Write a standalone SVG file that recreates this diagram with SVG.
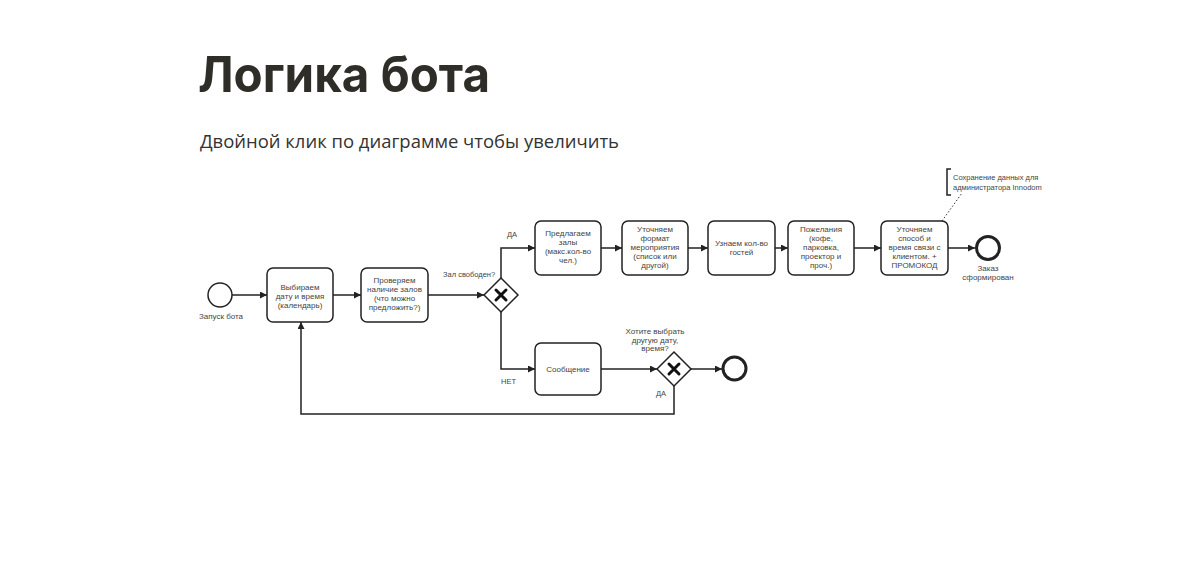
<svg xmlns="http://www.w3.org/2000/svg" width="1203" height="571" viewBox="0 0 1203 571">
<defs>
<marker id="arr" viewBox="0 0 10 10" refX="10" refY="5" markerWidth="7" markerHeight="7" markerUnits="userSpaceOnUse" orient="auto">
<path d="M0,0 L10,5 L0,10 Z" fill="#222"/>
</marker>
<style>
.box{fill:#fff;stroke:#222;stroke-width:1.5}
.t{font-family:"Liberation Sans",Arial,sans-serif;font-size:8px;fill:#444;text-anchor:middle}
.l{font-family:"Liberation Sans",Arial,sans-serif;font-size:7.5px;fill:#444}
.e{fill:none;stroke:#222;stroke-width:1.5;marker-end:url(#arr)}
.gw{fill:#fff;stroke:#222;stroke-width:1.5}
.x{stroke:#111;stroke-width:3;stroke-linecap:round}
</style>
</defs>
<rect width="1203" height="571" fill="#fff"/>
<text x="198" y="92" font-family="Inter, 'Noto Sans', sans-serif" font-weight="700" font-size="50" fill="#2f2d28" textLength="292" lengthAdjust="spacingAndGlyphs">Логика бота</text>
<text x="200" y="148" font-family="'Open Sans', 'Noto Sans', sans-serif" font-size="18.5" fill="#333" textLength="419" lengthAdjust="spacingAndGlyphs">Двойной клик по диаграмме чтобы увеличить</text>

<g id="connectors">
<path class="e" d="M232,295 H267"/>
<path class="e" d="M333,295 H361"/>
<path class="e" d="M428,295 H484"/>
<path class="e" d="M501,278 V248 H535"/>
<path class="e" d="M501,312 V369 H535"/>
<path class="e" d="M601,248 H622"/>
<path class="e" d="M688,248 H708"/>
<path class="e" d="M775,248 H788"/>
<path class="e" d="M854,248 H881"/>
<path class="e" d="M948,248 H975"/>
<path class="e" d="M601,369 H657"/>
<path class="e" d="M691,369 H722"/>
<path class="e" d="M674,386 V414 H301 V322"/>
<path d="M942,221 L962,193" fill="none" stroke="#333" stroke-width="1" stroke-dasharray="1.5,2"/>
<text class="l" x="443" y="277">Зал свободен?</text>
<text class="l" x="507" y="237">ДА</text>
<text class="l" x="501" y="384">НЕТ</text>
<text class="l" x="656" y="396">ДА</text>
</g>

<g id="start">
<circle cx="220" cy="295" r="12" fill="#fff" stroke="#222" stroke-width="1.5"/>
<text class="t" x="221" y="319">Запуск бота</text>
</g>

<g id="task1">
<rect class="box" x="267" y="268" width="66" height="54" rx="6"/>
<text class="t" x="300" y="290">Выбираем</text>
<text class="t" x="300" y="299">дату и время</text>
<text class="t" x="300" y="308">(календарь)</text>
</g>

<g id="task2">
<rect class="box" x="361" y="268" width="67" height="54" rx="6"/>
<text class="t" x="394.5" y="283">Проверяем</text>
<text class="t" x="394.5" y="292">наличие залов</text>
<text class="t" x="394.5" y="301">(что можно</text>
<text class="t" x="394.5" y="310">предложить?)</text>
</g>

<g id="gateway1">
<path class="gw" d="M501,278 L518,295 L501,312 L484,295 Z"/>
<path class="x" d="M496,290 L506,300 M506,290 L496,300"/>
</g>

<g id="task3">
<rect class="box" x="535" y="221" width="66" height="54" rx="6"/>
<text class="t" x="568" y="236">Предлагаем</text>
<text class="t" x="568" y="245">залы</text>
<text class="t" x="568" y="254">(макс.кол-во</text>
<text class="t" x="568" y="263">чел.)</text>
</g>

<g id="task4">
<rect class="box" x="622" y="221" width="66" height="54" rx="6"/>
<text class="t" x="655" y="232">Уточняем</text>
<text class="t" x="655" y="241">формат</text>
<text class="t" x="655" y="250">мероприятия</text>
<text class="t" x="655" y="259">(список или</text>
<text class="t" x="655" y="268">другой)</text>
</g>

<g id="task5">
<rect class="box" x="708" y="221" width="67" height="54" rx="6"/>
<text class="t" x="741.5" y="246">Узнаем кол-во</text>
<text class="t" x="741.5" y="255">гостей</text>
</g>

<g id="task6">
<rect class="box" x="788" y="221" width="66" height="54" rx="6"/>
<text class="t" x="821" y="232">Пожелания</text>
<text class="t" x="821" y="241">(кофе,</text>
<text class="t" x="821" y="250">парковка,</text>
<text class="t" x="821" y="259">проектор и</text>
<text class="t" x="821" y="268">проч.)</text>
</g>

<g id="task7">
<rect class="box" x="881" y="221" width="67" height="54" rx="6"/>
<text class="t" x="914.5" y="232">Уточняем</text>
<text class="t" x="914.5" y="241">способ и</text>
<text class="t" x="914.5" y="250">время связи с</text>
<text class="t" x="914.5" y="259">клиентом. +</text>
<text class="t" x="914.5" y="268">ПРОМОКОД</text>
</g>

<g id="annotation">
<path d="M951,169 H947 V195 H951" fill="none" stroke="#222" stroke-width="1.5"/>
<text class="l" x="953" y="180">Сохранение данных для</text>
<text class="l" x="953" y="190">администратора Innodom</text>
</g>

<g id="end1">
<circle cx="988" cy="248" r="11.5" fill="#fff" stroke="#222" stroke-width="3"/>
<text class="t" x="988" y="271">Заказ</text>
<text class="t" x="988" y="280">сформирован</text>
</g>

<g id="task8">
<rect class="box" x="535" y="343" width="66" height="52" rx="6"/>
<text class="t" x="568" y="372">Сообщение</text>
</g>

<g id="gateway2">
<path class="gw" d="M674,352 L691,369 L674,386 L657,369 Z"/>
<path class="x" d="M669,364 L679,374 M679,364 L669,374"/>
<text class="t" x="655" y="334">Хотите выбрать</text>
<text class="t" x="655" y="342.5">другую дату,</text>
<text class="t" x="655" y="351">время?</text>
</g>

<g id="end2">
<circle cx="734.5" cy="368.5" r="11.5" fill="#fff" stroke="#222" stroke-width="3"/>
</g>
</svg>
